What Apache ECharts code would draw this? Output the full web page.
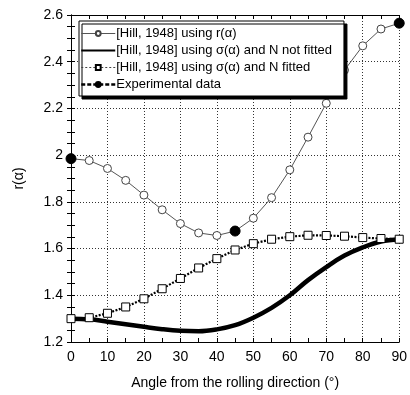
<!DOCTYPE html>
<html>
<head>
<meta charset="utf-8">
<script src="https://cdn.jsdelivr.net/npm/echarts@6/dist/echarts.min.js"></script>
<style>
  html, body { margin: 0; padding: 0; background: #fff; }
  #chart { width: 410px; height: 395px; }
</style>
</head>
<body>
<div id="chart"></div>
<script>
// angle from the rolling direction (deg)
const angles = [0, 5, 10, 15, 20, 25, 30, 35, 40, 45, 50, 55, 60, 65, 70, 75, 80, 85, 90];

// [Hill, 1948] using r(alpha)
const hillR = [1.985, 1.977, 1.943, 1.892, 1.829, 1.766, 1.707, 1.667, 1.656, 1.675, 1.73, 1.818, 1.937, 2.077, 2.222, 2.364, 2.468, 2.54, 2.565];
// [Hill, 1948] using sigma(alpha), N not fitted
const hillSigmaNotFitted = [1.30, 1.297, 1.287, 1.276, 1.265, 1.255, 1.248, 1.246, 1.254, 1.272, 1.304, 1.346, 1.40, 1.465, 1.521, 1.57, 1.605, 1.63, 1.64];
// [Hill, 1948] using sigma(alpha), N fitted
const hillSigmaFitted = [1.30, 1.304, 1.323, 1.35, 1.385, 1.428, 1.472, 1.517, 1.557, 1.594, 1.621, 1.64, 1.651, 1.657, 1.656, 1.653, 1.647, 1.643, 1.64];
// experimental data
const expAngles = [0, 45, 90];
const expValues = [1.985, 1.675, 2.565];

const names = [
    "[Hill, 1948] using r(\u03b1)",
    "[Hill, 1948] using \u03c3(\u03b1) and N not fitted",
    "[Hill, 1948] using \u03c3(\u03b1) and N fitted",
    "Experimental data",
];

const pairs = (xs, ys) => xs.map((x, i) => [x, ys[i]]);

const chart = echarts.init(document.getElementById("chart"));

const font = "Liberation Sans, Arial, sans-serif";
const gridDots = { color: "#333", type: [1, 2], width: 1 };

// axis box: ticks inside, no labels on the mirrored sides
const boxAxis = (extra) => Object.assign({
    type: "value",
    axisLine: { show: true, lineStyle: { color: "#000", width: 1 } },
    axisTick: { show: true, inside: true, length: 4, lineStyle: { color: "#000" } },
    splitLine: { show: false },
    axisLabel: { show: false },
}, extra);

const option = {
    backgroundColor: "#fff",
    animation: false,
    grid: { left: 71, right: 6, top: 15, bottom: 47 },
    legend: {
        orient: "vertical",
        left: 79,
        top: 21,
        padding: [6, 12, 5, 1],
        itemGap: 4,
        itemWidth: 34,
        itemHeight: 6,
        backgroundColor: "#fff",
        borderColor: "#000",
        borderWidth: 1,
        shadowColor: "#000",
        shadowBlur: 0,
        shadowOffsetX: 3,
        shadowOffsetY: 3,
        textStyle: { color: "#000", fontFamily: font, fontSize: 13, padding: [0, 0, 0, -4] },
        data: [
            { name: names[0], lineStyle: { width: 1, color: "#555" } },
            { name: names[1], itemStyle: { color: "transparent", borderWidth: 0 }, lineStyle: { width: 2, color: "#000" } },
            { name: names[2], lineStyle: { width: 1, type: [2, 2], color: "#444" } },
            { name: names[3], lineStyle: { width: 2.5, type: [4, 2], color: "#000", opacity: 1 } },
        ],
    },
    xAxis: [
        boxAxis({
            min: 0, max: 90, interval: 10,
            minorTick: { show: true, splitNumber: 2, length: 4, lineStyle: { color: "#000" } },
            splitLine: { show: true, lineStyle: gridDots },
            axisLabel: { show: true, color: "#000", fontFamily: font, fontSize: 14, margin: 8 },
            name: "Angle from the rolling direction (\u00b0)",
            nameLocation: "middle",
            nameGap: 34,
            nameTextStyle: { color: "#000", fontFamily: font, fontSize: 14 },
        }),
        boxAxis({
            position: "top", min: 0, max: 90, interval: 10,
            minorTick: { show: true, splitNumber: 2, length: 4, lineStyle: { color: "#000" } },
        }),
    ],
    yAxis: [
        boxAxis({
            min: 1.2, max: 2.6, interval: 0.2,
            minorTick: { show: true, splitNumber: 4, length: 4, lineStyle: { color: "#000" } },
            splitLine: { show: true, lineStyle: gridDots },
            axisLabel: {
                show: true, color: "#000", fontFamily: font, fontSize: 14, margin: 8,
                formatter: (v) => String(Math.round(v * 10) / 10),
            },
            name: "r(\u03b1)",
            nameLocation: "middle",
            nameGap: 45,
            nameRotate: 90,
            nameTextStyle: { color: "#000", fontFamily: font, fontSize: 14 },
        }),
        boxAxis({
            position: "right", min: 1.2, max: 2.6, interval: 0.2,
            minorTick: { show: true, splitNumber: 4, length: 4, lineStyle: { color: "#000" } },
        }),
    ],
    series: [
        {
            name: names[0],
            type: "line",
            data: pairs(angles, hillR),
            symbol: "circle",
            symbolSize: 8,
            showAllSymbol: true,
            lineStyle: { color: "#555", width: 1 },
            itemStyle: { color: "#fff", borderColor: "#444", borderWidth: 1 },
            z: 3,
        },
        {
            name: names[1],
            type: "line",
            data: pairs(angles, hillSigmaNotFitted),
            smooth: 0.4,
            symbol: "none",
            lineStyle: { color: "#000", width: 4.5 },
            itemStyle: { color: "#000" },
            z: 2,
        },
        {
            name: names[2],
            type: "line",
            data: pairs(angles, hillSigmaFitted),
            symbol: "rect",
            symbolSize: 8,
            showAllSymbol: true,
            lineStyle: { color: "#000", width: 2.2, type: [2, 1.5] },
            itemStyle: { color: "#fff", borderColor: "#000", borderWidth: 1 },
            z: 3,
        },
        {
            name: names[3],
            type: "line",
            data: pairs(expAngles, expValues),
            symbol: "circle",
            symbolSize: 10,
            lineStyle: { width: 0, opacity: 0 },
            itemStyle: { color: "#000", borderColor: "#000", borderWidth: 1 },
            z: 5,
        },
    ],
};

chart.setOption(option);
</script>
</body>
</html>
